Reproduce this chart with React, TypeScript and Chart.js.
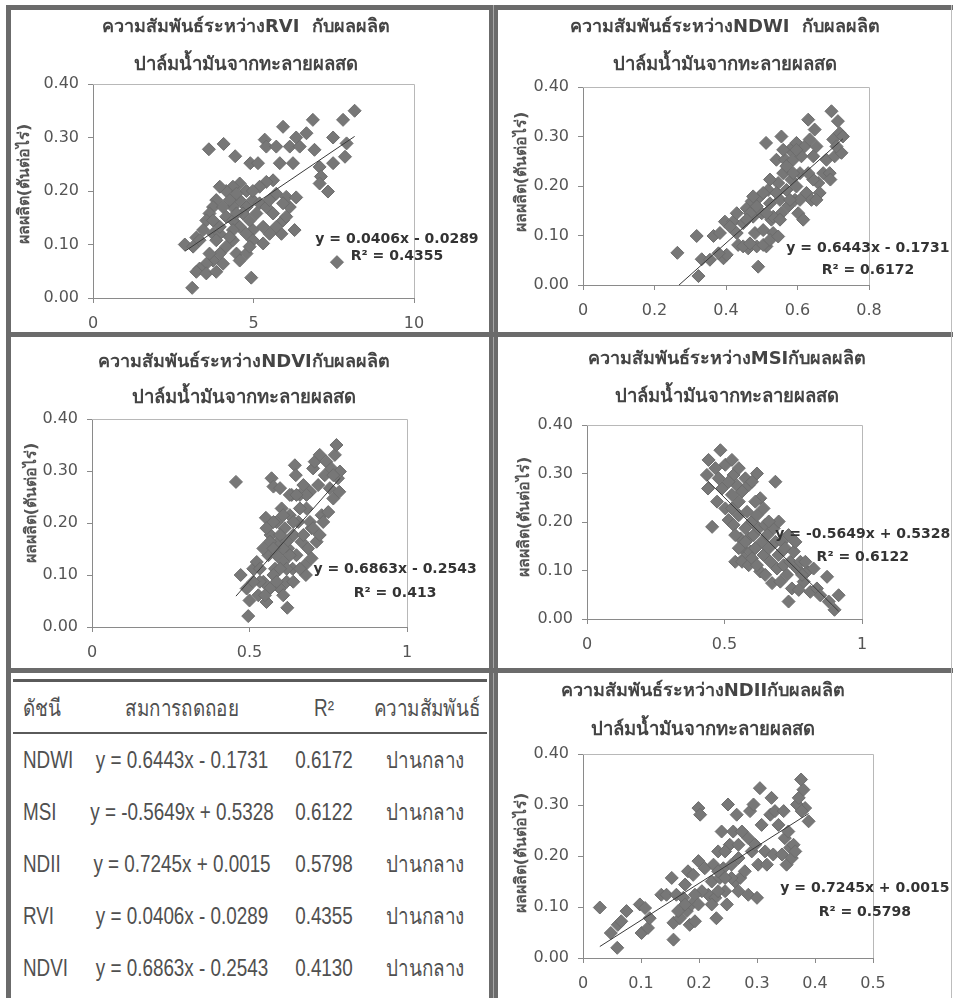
import React, { useEffect, useRef } from "react";
import { Chart, registerables } from "chart.js";
Chart.register(...registerables);

// ---------------- data ----------------
const rviX = [3.09,2.86,3.22,3.61,4.07,4.43,4.90,5.14,5.35,5.40,5.71,5.92,6.13,6.33,6.44,6.65,6.85,6.90,7.79,8.15,7.48,7.90,7.85,7.48,7.06,7.10,7.06,7.32,7.60,5.82,6.23,5.71,6.02,6.33,5.61,5.40,5.19,5.92,5.87,6.28,5.30,4.98,4.78,4.57,4.36,4.15,3.95,3.84,3.74,3.63,3.53,3.43,3.32,3.74,3.95,4.15,4.36,4.57,4.78,4.98,5.19,5.40,5.61,4.36,4.57,4.78,4.98,4.36,4.15,3.95,3.74,3.53,3.32,3.22,3.53,3.84,4.05,4.47,4.57,4.93,4.78,4.88,4.36,3.95,3.74,4.05,4.26,4.47,4.98,5.09,5.30,5.50,5.71,3.84,3.63,3.12,4.67,4.88,4.26,4.47,6.02,6.13,5.50,5.92];
const rviY = [0.019,0.100,0.113,0.278,0.288,0.265,0.252,0.252,0.296,0.283,0.283,0.320,0.283,0.300,0.283,0.308,0.333,0.277,0.333,0.350,0.300,0.289,0.264,0.252,0.245,0.227,0.214,0.199,0.067,0.252,0.252,0.195,0.189,0.188,0.220,0.217,0.208,0.145,0.120,0.127,0.102,0.127,0.200,0.214,0.208,0.200,0.208,0.183,0.170,0.158,0.145,0.127,0.108,0.120,0.120,0.152,0.170,0.183,0.170,0.183,0.177,0.170,0.158,0.145,0.133,0.120,0.108,0.108,0.096,0.083,0.070,0.064,0.055,0.049,0.046,0.049,0.064,0.083,0.070,0.038,0.083,0.096,0.127,0.133,0.145,0.170,0.183,0.195,0.200,0.158,0.133,0.120,0.133,0.108,0.083,0.096,0.158,0.145,0.114,0.158,0.152,0.170,0.183,0.177];

const ndwiX = [0.264,0.318,0.323,0.332,0.355,0.365,0.383,0.397,0.393,0.402,0.420,0.430,0.434,0.448,0.458,0.462,0.472,0.476,0.481,0.486,0.490,0.495,0.500,0.504,0.512,0.513,0.518,0.523,0.527,0.532,0.541,0.546,0.551,0.555,0.555,0.560,0.565,0.569,0.574,0.579,0.583,0.588,0.593,0.597,0.602,0.607,0.611,0.616,0.620,0.625,0.630,0.634,0.639,0.644,0.648,0.653,0.658,0.662,0.672,0.681,0.690,0.692,0.695,0.700,0.704,0.713,0.718,0.723,0.727,0.709,0.448,0.467,0.504,0.523,0.532,0.513,0.486,0.467,0.430,0.411,0.379,0.588,0.569,0.597,0.607,0.579,0.551,0.546,0.597,0.560,0.644,0.630,0.653,0.541,0.523,0.504,0.476,0.458];
const ndwiY = [0.065,0.099,0.018,0.052,0.051,0.099,0.105,0.128,0.054,0.061,0.128,0.105,0.081,0.125,0.155,0.074,0.169,0.138,0.105,0.078,0.037,0.179,0.145,0.111,0.287,0.078,0.192,0.165,0.132,0.105,0.253,0.206,0.172,0.145,0.300,0.226,0.253,0.192,0.159,0.273,0.213,0.253,0.172,0.287,0.145,0.226,0.260,0.132,0.280,0.186,0.334,0.294,0.172,0.260,0.314,0.280,0.206,0.186,0.226,0.253,0.226,0.213,0.351,0.294,0.260,0.331,0.307,0.267,0.300,0.280,0.078,0.084,0.081,0.091,0.138,0.145,0.159,0.145,0.145,0.118,0.064,0.226,0.240,0.199,0.172,0.172,0.132,0.098,0.273,0.273,0.213,0.226,0.172,0.186,0.213,0.186,0.179,0.132];

const ndviX = [0.457,0.472,0.496,0.500,0.512,0.528,0.544,0.552,0.554,0.560,0.567,0.570,0.576,0.581,0.586,0.591,0.597,0.602,0.607,0.612,0.618,0.620,0.623,0.628,0.634,0.637,0.639,0.644,0.647,0.649,0.655,0.660,0.665,0.671,0.676,0.679,0.681,0.686,0.692,0.697,0.697,0.702,0.707,0.713,0.718,0.723,0.729,0.734,0.739,0.744,0.750,0.755,0.760,0.766,0.771,0.776,0.781,0.787,0.785,0.766,0.723,0.692,0.702,0.660,0.639,0.618,0.597,0.576,0.565,0.549,0.533,0.523,0.544,0.565,0.554,0.576,0.597,0.607,0.618,0.628,0.607,0.586,0.576,0.639,0.660,0.671,0.628,0.681,0.649,0.597,0.607,0.586,0.512,0.491,0.533];
const ndviY = [0.279,0.100,0.021,0.051,0.112,0.061,0.087,0.210,0.048,0.138,0.177,0.286,0.270,0.112,0.202,0.164,0.074,0.228,0.125,0.190,0.087,0.037,0.151,0.215,0.254,0.112,0.177,0.311,0.292,0.138,0.202,0.254,0.164,0.273,0.119,0.100,0.228,0.151,0.260,0.190,0.132,0.305,0.318,0.164,0.273,0.331,0.215,0.202,0.292,0.318,0.221,0.267,0.305,0.247,0.331,0.350,0.286,0.299,0.260,0.292,0.177,0.202,0.190,0.112,0.087,0.112,0.112,0.100,0.074,0.061,0.087,0.125,0.151,0.164,0.190,0.202,0.177,0.215,0.164,0.138,0.151,0.138,0.151,0.202,0.228,0.177,0.254,0.254,0.254,0.267,0.061,0.087,0.087,0.074,0.112];

const msiX = [0.485,0.455,0.442,0.436,0.440,0.467,0.479,0.503,0.527,0.533,0.545,0.552,0.564,0.576,0.588,0.600,0.618,0.630,0.685,0.503,0.515,0.533,0.539,0.552,0.558,0.564,0.570,0.576,0.582,0.588,0.594,0.600,0.606,0.612,0.618,0.624,0.630,0.636,0.642,0.648,0.655,0.661,0.667,0.673,0.679,0.685,0.691,0.697,0.703,0.709,0.715,0.721,0.727,0.733,0.739,0.745,0.752,0.764,0.770,0.776,0.788,0.800,0.812,0.824,0.836,0.848,0.873,0.900,0.915,0.879,0.782,0.794,0.758,0.733,0.697,0.661,0.642,0.612,0.552,0.527,0.515,0.491,0.473,0.564,0.588,0.600,0.618,0.648,0.552,0.576,0.539,0.527];
const msiY = [0.348,0.190,0.328,0.297,0.269,0.311,0.290,0.318,0.328,0.297,0.276,0.311,0.263,0.290,0.276,0.283,0.300,0.249,0.283,0.228,0.204,0.194,0.118,0.214,0.166,0.146,0.125,0.187,0.221,0.166,0.139,0.201,0.173,0.146,0.214,0.187,0.098,0.159,0.132,0.194,0.173,0.146,0.118,0.074,0.187,0.159,0.104,0.132,0.077,0.159,0.111,0.146,0.091,0.036,0.118,0.063,0.139,0.104,0.060,0.118,0.077,0.098,0.056,0.104,0.063,0.049,0.087,0.019,0.049,0.036,0.091,0.118,0.159,0.173,0.201,0.201,0.228,0.242,0.242,0.256,0.283,0.269,0.242,0.118,0.111,0.125,0.111,0.091,0.146,0.159,0.173,0.228];

const ndiiX = [0.029,0.048,0.059,0.060,0.066,0.075,0.098,0.101,0.107,0.112,0.115,0.135,0.144,0.153,0.156,0.161,0.156,0.167,0.173,0.176,0.179,0.181,0.184,0.187,0.190,0.193,0.199,0.202,0.199,0.210,0.216,0.222,0.228,0.230,0.233,0.236,0.239,0.242,0.245,0.248,0.250,0.253,0.256,0.259,0.262,0.265,0.268,0.271,0.274,0.279,0.285,0.288,0.291,0.294,0.300,0.302,0.305,0.308,0.314,0.317,0.323,0.325,0.328,0.331,0.337,0.343,0.346,0.348,0.351,0.354,0.357,0.360,0.363,0.366,0.369,0.372,0.376,0.380,0.383,0.389,0.377,0.225,0.233,0.245,0.256,0.268,0.222,0.205,0.176,0.164,0.193,0.199,0.268,0.285,0.297,0.233,0.245];
const ndiiY = [0.099,0.049,0.020,0.065,0.072,0.092,0.105,0.049,0.098,0.059,0.078,0.124,0.124,0.157,0.036,0.124,0.069,0.078,0.118,0.144,0.092,0.170,0.065,0.105,0.163,0.072,0.294,0.281,0.190,0.176,0.124,0.150,0.118,0.078,0.209,0.157,0.248,0.176,0.131,0.105,0.301,0.222,0.183,0.248,0.150,0.281,0.196,0.157,0.248,0.170,0.124,0.288,0.209,0.301,0.118,0.183,0.333,0.261,0.209,0.183,0.281,0.314,0.203,0.288,0.261,0.203,0.288,0.235,0.183,0.248,0.216,0.196,0.222,0.209,0.301,0.314,0.350,0.330,0.294,0.268,0.288,0.183,0.131,0.209,0.157,0.131,0.105,0.131,0.105,0.092,0.124,0.105,0.222,0.235,0.222,0.170,0.157];

const rviFit = { slope: 0.0406, intercept: -0.0289, r2: "0.4355" };
const ndwiFit = { slope: 0.6443, intercept: -0.1731, r2: "0.6172" };
const ndviFit = { slope: 0.6863, intercept: -0.2543, r2: "0.413" };
const msiFit = { slope: -0.5649, intercept: 0.5328, r2: "0.6122" };
const ndiiFit = { slope: 0.7245, intercept: 0.0015, r2: "0.5798" };

const titleRvi = "ความสัมพันธ์ระหว่างRVI  กับผลผลิต";
const titleNdwi = "ความสัมพันธ์ระหว่างNDWI  กับผลผลิต";
const titleNdvi = "ความสัมพันธ์ระหว่างNDVIกับผลผลิต";
const titleMsi = "ความสัมพันธ์ระหว่างMSIกับผลผลิต";
const titleNdii = "ความสัมพันธ์ระหว่างNDIIกับผลผลิต";
const TITLE2 = "ปาล์มน้ำมันจากทะลายผลสด";
const Y_TITLE = "ผลผลิต(ตันต่อไร่)";

const tableHeaders = ["ดัชนี", "สมการถดถอย", "R²", "ความสัมพันธ์"];
const tableIndices = ["NDWI", "MSI", "NDII", "RVI", "NDVI"];
const tableEquations = ["y = 0.6443x - 0.1731", "y = -0.5649x + 0.5328", "y = 0.7245x + 0.0015", "y = 0.0406x - 0.0289", "y = 0.6863x - 0.2543"];
const tableR2 = ["0.6172", "0.6122", "0.5798", "0.4355", "0.4130"];
const tableRelation = ["ปานกลาง", "ปานกลาง", "ปานกลาง", "ปานกลาง", "ปานกลาง"];

// ---------------- styles / layout ----------------
const FONT = '"DejaVu Sans", "Noto Sans", sans-serif';
const TICK_COLOR = "#555555";
const AXIS_COLOR = "#8a8a8a";
const BORDER = "#6b6b6b";

type Fit = { slope: number; intercept: number; r2: string };
type Layout = {
  left: number; top: number; width: number; height: number;
  plot: [number, number, number, number];
  titleCx: number; titleY1: number; titleY2: number;
  yTitleX: number; yTitleCy: number;
  eqAt: [number, number, number];
};

const layoutRvi: Layout = { left: 12, top: 11, width: 474, height: 320, plot: [93, 84, 414, 298], titleCx: 246, titleY1: 27, titleY2: 65, yTitleX: 25, yTitleCy: 184, eqAt: [9.47, 0.110, 0.077] };
const layoutNdwi: Layout = { left: 498, top: 11, width: 452, height: 320, plot: [583, 87, 869, 285], titleCx: 725, titleY1: 27, titleY2: 65, yTitleX: 522, yTitleCy: 172, eqAt: [0.797, 0.075, 0.030] };
const layoutNdvi: Layout = { left: 12, top: 339, width: 474, height: 328, plot: [92, 419, 407, 627], titleCx: 244, titleY1: 362, titleY2: 398, yTitleX: 32, yTitleCy: 503, eqAt: [0.962, 0.110, 0.065] };
const layoutMsi: Layout = { left: 498, top: 339, width: 452, height: 328, plot: [587, 425, 862, 619], titleCx: 727, titleY1: 359, titleY2: 397, yTitleX: 525, yTitleCy: 517, eqAt: [1.003, 0.175, 0.128] };
const layoutNdii: Layout = { left: 498, top: 674, width: 452, height: 324, plot: [583, 754, 873, 958], titleCx: 703, titleY1: 691, titleY2: 730, yTitleX: 522, yTitleCy: 853, eqAt: [0.486, 0.137, 0.090] };

function fmtX(v: number) {
  return String(parseFloat(Number(v).toFixed(2)));
}

function ScatterPanel(props: { xs: number[]; ys: number[]; fit: Fit; title1: string; xMax: number; xStep: number; layout: Layout }) {
  const { xs, ys, fit, title1, xMax, xStep, layout: L } = props;
  const ref = useRef<HTMLCanvasElement>(null);
  useEffect(() => {
    if (!ref.current) return;
    const [pl, pt, pr, pb] = L.plot;
    const pts = xs.map((x, i) => ({ x, y: ys[i] }));
    const x0 = Math.min(...xs);
    const x1 = Math.max(...xs);
    const trend = [
      { x: x0, y: fit.slope * x0 + fit.intercept },
      { x: x1, y: fit.slope * x1 + fit.intercept },
    ];
    const eq1 = `y = ${fit.slope.toFixed(4)}x ${fit.intercept < 0 ? "-" : "+"} ${Math.abs(fit.intercept).toFixed(4)}`;
    const eq2 = `R² = ${fit.r2}`;
    const textPlugin = {
      id: "panelText",
      beforeDatasetsDraw(chart: any) {
        const { ctx, chartArea: a } = chart;
        ctx.save();
        ctx.strokeStyle = "#b8b8b8";
        ctx.lineWidth = 1;
        ctx.beginPath();
        ctx.moveTo(a.left, Math.round(a.top) + 0.5);
        ctx.lineTo(Math.round(a.right) + 0.5, Math.round(a.top) + 0.5);
        ctx.lineTo(Math.round(a.right) + 0.5, a.bottom);
        ctx.stroke();
        ctx.restore();
      },
      afterDraw(chart: any) {
        const { ctx, scales } = chart;
        ctx.save();
        ctx.textAlign = "center";
        ctx.textBaseline = "middle";
        ctx.fillStyle = "#444444";
        ctx.font = `bold 18px ${FONT}`;
        ctx.fillText(title1, L.titleCx - L.left, L.titleY1 - L.top);
        ctx.font = `bold 18.5px ${FONT}`;
        ctx.fillText(TITLE2, L.titleCx - L.left, L.titleY2 - L.top);
        ctx.save();
        ctx.translate(L.yTitleX - L.left, L.yTitleCy - L.top);
        ctx.rotate(-Math.PI / 2);
        ctx.font = `bold 16px ${FONT}`;
        ctx.fillStyle = "#555555";
        ctx.fillText(Y_TITLE, 0, 0);
        ctx.restore();
        ctx.font = `bold 14px ${FONT}`;
        ctx.fillStyle = "#333333";
        const ex = scales.x.getPixelForValue(L.eqAt[0]);
        ctx.fillText(eq1, ex, scales.y.getPixelForValue(L.eqAt[1]));
        ctx.fillText(eq2, ex, scales.y.getPixelForValue(L.eqAt[2]));
        ctx.restore();
      },
    };
    const tickFont = { family: FONT, size: 16 };
    const chart = new Chart(ref.current, {
      type: "scatter",
      data: {
        datasets: [
          { data: trend, showLine: true, borderColor: "#3a3a3a", borderWidth: 1, pointRadius: 0, pointHoverRadius: 0 } as any,
          { data: pts, pointStyle: "rectRot", pointRadius: 6.5, pointHoverRadius: 6.5, backgroundColor: "#777777", borderColor: "#6c6c6c", borderWidth: 1 } as any,
        ],
      },
      options: {
        responsive: false,
        animation: false,
        devicePixelRatio: 1,
        events: [],
        layout: { padding: { left: 0, top: pt - L.top, right: L.left + L.width - pr, bottom: 0 } },
        plugins: { legend: { display: false }, tooltip: { enabled: false }, title: { display: false } },
        scales: {
          x: {
            type: "linear",
            min: 0,
            max: xMax,
            ticks: { stepSize: xStep, callback: (v: any) => fmtX(v), font: tickFont, color: TICK_COLOR, padding: 11, maxRotation: 0, autoSkip: false },
            grid: { drawOnChartArea: false, drawTicks: true, tickLength: 5, color: AXIS_COLOR },
            border: { color: AXIS_COLOR, width: 1 },
            afterFit: (s: any) => { s.height = L.top + L.height - pb; },
          },
          y: {
            type: "linear",
            min: 0,
            max: 0.4,
            ticks: { stepSize: 0.1, callback: (v: any) => Number(v).toFixed(2), font: tickFont, color: TICK_COLOR, padding: 9 },
            grid: { drawOnChartArea: false, drawTicks: true, tickLength: 5, color: AXIS_COLOR },
            border: { color: AXIS_COLOR, width: 1 },
            afterFit: (s: any) => { s.width = pl - L.left; },
          },
        },
      } as any,
      plugins: [textPlugin],
    });
    return () => chart.destroy();
  }, []);
  return (
    <canvas
      ref={ref}
      width={L.width}
      height={L.height}
      style={{ position: "absolute", left: L.left, top: L.top, width: L.width, height: L.height }}
    />
  );
}

const TABLE_FONT = '"Liberation Sans", Arial, "Noto Sans", sans-serif';
const tableLeft = 13;
const tableRight = 487;
const headerY = 708;
const rowY0 = 760;
const rowPitch = 52;
const colCenters = [0, 182, 324, 425];
const col1Left = 23;

function Cell(props: { text: string; x: number; y: number; left?: boolean }) {
  const { text, x, y, left } = props;
  return (
    <span
      style={{
        position: "absolute",
        left: x,
        top: y,
        whiteSpace: "nowrap",
        fontFamily: TABLE_FONT,
        fontSize: 23,
        lineHeight: "26px",
        color: "#505050",
        transform: left ? "translateY(-50%) scaleX(0.82)" : "translate(-50%,-50%) scaleX(0.82)",
        transformOrigin: left ? "left center" : "center center",
      }}
    >
      {text}
    </span>
  );
}

function StatsTable() {
  const rows = tableIndices.map((idx, i) => [idx, tableEquations[i], tableR2[i], tableRelation[i]]);
  return (
    <>
      <div style={{ position: "absolute", left: tableLeft, top: 679, width: tableRight - tableLeft, height: 3, background: "#5a5a5a" }} />
      <div style={{ position: "absolute", left: tableLeft, top: 732, width: tableRight - tableLeft, height: 2, background: "#5a5a5a" }} />
      {tableHeaders.map((h, c) => (
        <Cell key={"h" + c} text={h} x={c === 0 ? col1Left : colCenters[c] + (c === 3 ? 2 : 0)} y={headerY} left={c === 0} />
      ))}
      {rows.map((r, i) =>
        r.map((t, c) => (
          <Cell key={i + "-" + c} text={t} x={c === 0 ? col1Left : colCenters[c]} y={rowY0 + i * rowPitch} left={c === 0} />
        ))
      )}
    </>
  );
}

function Bar(props: { l: number; t: number; w: number; h: number; c?: string }) {
  return <div style={{ position: "absolute", left: props.l, top: props.t, width: props.w, height: props.h, background: props.c || BORDER }} />;
}

export default function App() {
  return (
    <div style={{ position: "fixed", left: 0, top: 0, width: 953, height: 998, background: "#ffffff", overflow: "hidden" }}>
      <ScatterPanel xs={rviX} ys={rviY} fit={rviFit} title1={titleRvi} xMax={10} xStep={5} layout={layoutRvi} />
      <ScatterPanel xs={ndwiX} ys={ndwiY} fit={ndwiFit} title1={titleNdwi} xMax={0.8} xStep={0.2} layout={layoutNdwi} />
      <ScatterPanel xs={ndviX} ys={ndviY} fit={ndviFit} title1={titleNdvi} xMax={1} xStep={0.5} layout={layoutNdvi} />
      <ScatterPanel xs={msiX} ys={msiY} fit={msiFit} title1={titleMsi} xMax={1} xStep={0.5} layout={layoutMsi} />
      <ScatterPanel xs={ndiiX} ys={ndiiY} fit={ndiiFit} title1={titleNdii} xMax={0.5} xStep={0.1} layout={layoutNdii} />
      <StatsTable />
      {/* panel frames */}
      <Bar l={6} t={5} w={947} h={5} />
      <Bar l={6} t={5} w={5} h={993} />
      <Bar l={489} t={5} w={4} h={993} />
      <Bar l={493} t={5} w={1} h={993} c="#a8a8a8" />
      <Bar l={494} t={5} w={4} h={993} />
      <Bar l={6} t={332} w={947} h={5} />
      <Bar l={6} t={668} w={947} h={5} />
      <Bar l={951} t={5} w={1} h={993} c="#bdbdbd" />
    </div>
  );
}
